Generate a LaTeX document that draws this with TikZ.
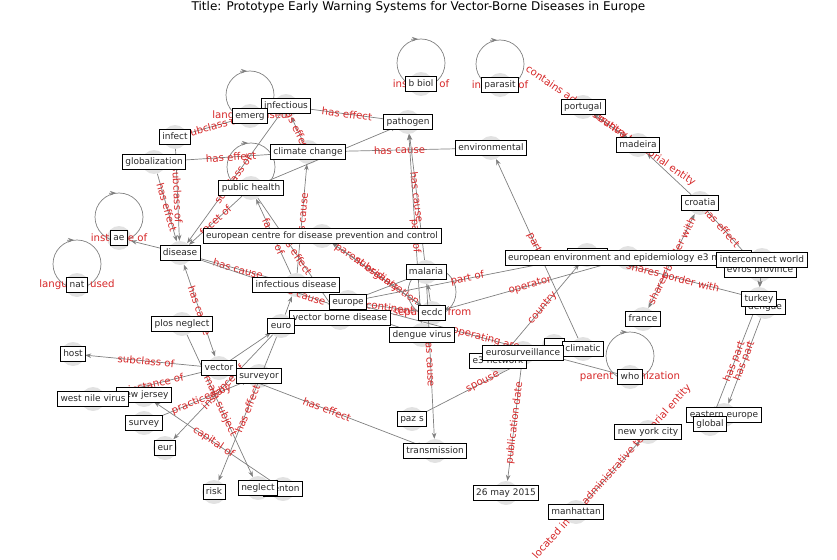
\documentclass[tikz,border=0pt]{standalone}
\usepackage{fontspec}
\setmainfont{DejaVu Sans}
\usetikzlibrary{calc,arrows.meta}

\definecolor{nodegrey}{RGB}{226,226,226}
\definecolor{edgegrey}{RGB}{128,128,128}
\definecolor{relred}{RGB}{214,39,40}
\definecolor{textgrey}{RGB}{40,40,40}

\newcommand{\boxfont}{\fontsize{9}{10}\selectfont}
\newcommand{\relfont}{\fontsize{10.2}{11}\selectfont}
% loop drawn above a node, with its label on the node
\newcommand{\selfloop}[2]{%
  \draw[loopline] ($(#1)+(0,21)$) circle (24pt);
  \draw[rel] ($(#1)+(-10,44.8)$) -- ($(#1)+(-3,45)$);
  \node[looplabel] (#1-loop) at (#1) {#2};
}

\begin{document}
\begin{tikzpicture}[x=1pt,y=1pt,
    dot/.style={circle,fill=nodegrey,minimum size=24pt,inner sep=0pt},
    box/.style={draw=black,fill=white,text=textgrey,line width=0.8pt,font=\boxfont,
      inner xsep=3pt,inner ysep=3.6pt,text height=6.6pt,text depth=1.8pt},
    rel/.style={draw=edgegrey,line width=0.7pt,-{Stealth[length=6pt,width=4.5pt]}},
    relboth/.style={rel,{Stealth[length=6pt,width=4.5pt]}-{Stealth[length=6pt,width=4.5pt]}},
    loopline/.style={draw=edgegrey,line width=0.7pt},
    rellabel/.style={text=relred,font=\relfont,sloped,midway,inner sep=0pt},
    looplabel/.style={text=relred,font=\relfont,inner sep=0pt}]
  \useasboundingbox (0,0) rectangle (837,-559);
  \node[font=\fontsize{12}{14}\selectfont] (title) at (418.5,-7)
    {Title: Prototype Early Warning Systems for Vector-Borne Diseases in Europe};

  % graph nodes (grey discs)
  \foreach \name/\x/\y in {infectious/286/106, emerg/250/116, pathogen/408/122,
      bbiol/421/84, parasit/500/85, portugal/583/107, madeira/638/145,
      environmental/491/148, climate/308/152, infect/175/137, globalization/154/162,
      publichealth/251/188, croatia/700/203, ecdcfull/322/236, ae/119/238,
      disease/180/253, nat/77/285, malaria/426/272, unknowna/587/255, eee/628/258,
      interconnect/762/260, evros/760/270, infdisease/296/285, europe/348/302,
      vbd/340/318, ecdc/432/313, denguevirus/422/335, turkey/759/299, dengue/765/307,
      plosneglect/182/324, euro/281/326, france/643/319, unknownb/554/346,
      climatic/583/349, eurosurveillance/523/353, e3network/498/361, host/73/354,
      vector/219/368, surveyor/259/376, who/630/377, newjersey/144/395,
      westnile/93/399, survey/144/423, pazs/412/419, easterneurope/724/415,
      global/710/424, newyork/648/432, transmission/435/451, eur/165/448,
      may2015/506/493, risk/214/492, neglect/258/488, trenton/283/489,
      manhattan/576/512}
    \node[dot] (\name) at (\x,-\y) {};

  % self loops
  \foreach \name/\txt in {bbiol/instance of, parasit/instance of, emerg/language used,
      ae/instance of, nat/language used, who/parent organization, ecdc/separated from,
      publichealth/}
    {\selfloop{\name}{\txt}}

  % relations
  \draw[rel] (infect) -- node[rellabel] {subclass of} (emerg);
  \draw[rel] (infectious) -- node[rellabel] {has effect} (pathogen);
  \draw[rel] (climate) -- node[rellabel] {has effect} (infectious);
  \draw[rel] (infectious) -- node[rellabel] {subclass of} (disease);
  \draw[rel] (globalization) -- node[rellabel] {has effect} (climate);
  \draw[rel] (globalization) -- node[rellabel] {has effect} (disease);
  \draw[rel] (infect) -- node[rellabel] {subclass of} (disease);
  \draw[rel] (publichealth) -- (pathogen);
  \draw[rel] (climate) -- node[rellabel] {has cause} (environmental);
  \draw[rel] (infdisease) -- node[rellabel] {has cause} (climate);
  \draw[rel] (infdisease) -- node[rellabel] {facet of} (publichealth);
  \draw[rel] (publichealth) -- node[rellabel] {has effect} (vbd);
  \draw[rel] (publichealth) -- node[rellabel] {facet of} (disease);
  \draw[rel] (disease) -- (ae);
  \draw[relboth] (disease) -- node[rellabel] {has cause} (vector);
  \draw[rel] (disease) -- node[rellabel] {has cause} (infdisease);
  \draw[rel] (disease) -- node[rellabel] {has cause} (denguevirus);
  \draw[rel] (malaria) -- node[rellabel] {has cause} (pathogen);
  \draw[rel] (denguevirus) -- node[rellabel,pos=0.46] {part of} (pathogen);
  \draw[rel] (malaria) -- node[rellabel] {has cause} (transmission);
  \draw[rel] (ecdc) -- node[rellabel] {parent organization} (ecdcfull);
  \draw[rel] (ecdcfull) -- node[rellabel] {subsidiary} (ecdc);
  \draw[rel] (ecdc) -- node[rellabel] {continent} (europe);
  \draw[rel] (europe) -- (malaria);
  \draw[rel] (ecdc) -- (malaria);
  \draw[rel] (unknowna) -- node[rellabel] {part of} (europe);
  \draw[rel] (eee) -- node[rellabel] {operator} (ecdc);
  \draw[rel] (e3network) -- node[rellabel] {country} (unknowna);
  \draw[rel] (pazs) -- node[rellabel] {spouse} (unknownb);
  \draw[rel] (eurosurveillance) -- node[rellabel] {publication date} (may2015);
  \draw[rel] (who) -- node[rellabel] {operating area} (europe);
  \draw[rel] (climatic) -- node[rellabel] {part of} (environmental);
  \draw[rel] (manhattan) -- node[rellabel] {located in the administrative territorial entity} (newyork);
  \draw[rel] (croatia) -- (madeira);
  \draw[rel] (portugal) -- node[rellabel] {contains administrative territorial entity} (madeira);
  \draw[rel] (madeira) -- node[rellabel] {country} (portugal);
  \draw[relboth] (croatia) -- node[rellabel] {shares border with} (france);
  \draw[rel] (croatia) -- node[rellabel,pos=0.3] {has effect} (evros);
  \draw[rel] (unknowna) -- node[rellabel] {shares border with} (turkey);
  \draw[rel] (evros) -- (turkey);
  \draw[rel] (interconnect) -- (turkey);
  \draw[rel] (turkey) -- node[rellabel] {has part} (global);
  \draw[rel] (dengue) -- node[rellabel] {has part} (easterneurope);
  \draw[rel] (vector) -- node[rellabel] {subclass of} (host);
  \draw[rel] (westnile) -- node[rellabel] {instance of} (vector);
  \draw[rel] (survey) -- node[rellabel] {practiced by} (surveyor);
  \draw[rel] (euro) -- node[rellabel] {instance of} (eur);
  \draw[rel] (trenton) -- node[rellabel] {capital of} (newjersey);
  \draw[rel] (plosneglect) -- node[rellabel] {main subject} (neglect);
  \draw[rel] (euro) -- node[rellabel] {has effect} (risk);
  \draw[rel] (vector) -- node[rellabel] {has effect} (transmission);
  \draw[rel] (vector) -- (euro);
  \draw[rel] (euro) -- (infdisease);

  % node labels (the ones further back first)
  \node[box] (newjersey-t) at (newjersey) {new jersey};
  \node[box] (trenton-t) at (trenton) {trenton};
  \node[box] (easterneurope-t) at (easterneurope) {eastern europe};
  \node[box] (evros-t) at (evros) {evros province};
  \node[box] (dengue-t) at (dengue) {dengue};
  \node[box,minimum width=40pt] (unknowna-t) at ($(unknowna)+(0,-1)$) {};
  \node[box,minimum width=20pt] (unknownb-t) at (unknownb) {};
  \node[box] (e3network-t) at (e3network) {e3 network};
  \node[box] (vbd-t) at (vbd) {vector borne disease};
  \foreach \name/\txt in {infectious/infectious, emerg/emerg, pathogen/pathogen,
      bbiol/b biol, parasit/parasit, portugal/portugal, madeira/madeira,
      environmental/environmental, climate/climate change, infect/infect,
      globalization/globalization, publichealth/public health, croatia/croatia,
      ecdcfull/european centre for disease prevention and control, ae/ae,
      disease/disease, nat/nat, malaria/malaria,
      eee/european environment and epidemiology e3 network,
      interconnect/interconnect world, infdisease/infectious disease, europe/europe,
      ecdc/ecdc, denguevirus/dengue virus, turkey/turkey, plosneglect/plos neglect,
      euro/euro, france/france, climatic/climatic, eurosurveillance/eurosurveillance,
      host/host, vector/vector, surveyor/surveyor, who/who, westnile/west nile virus,
      survey/survey, pazs/paz s, global/global, newyork/new york city,
      transmission/transmission, eur/eur, may2015/26 may 2015, risk/risk,
      neglect/neglect, manhattan/manhattan}
    \node[box] (\name-t) at (\name) {\txt};
\end{tikzpicture}
\end{document}
